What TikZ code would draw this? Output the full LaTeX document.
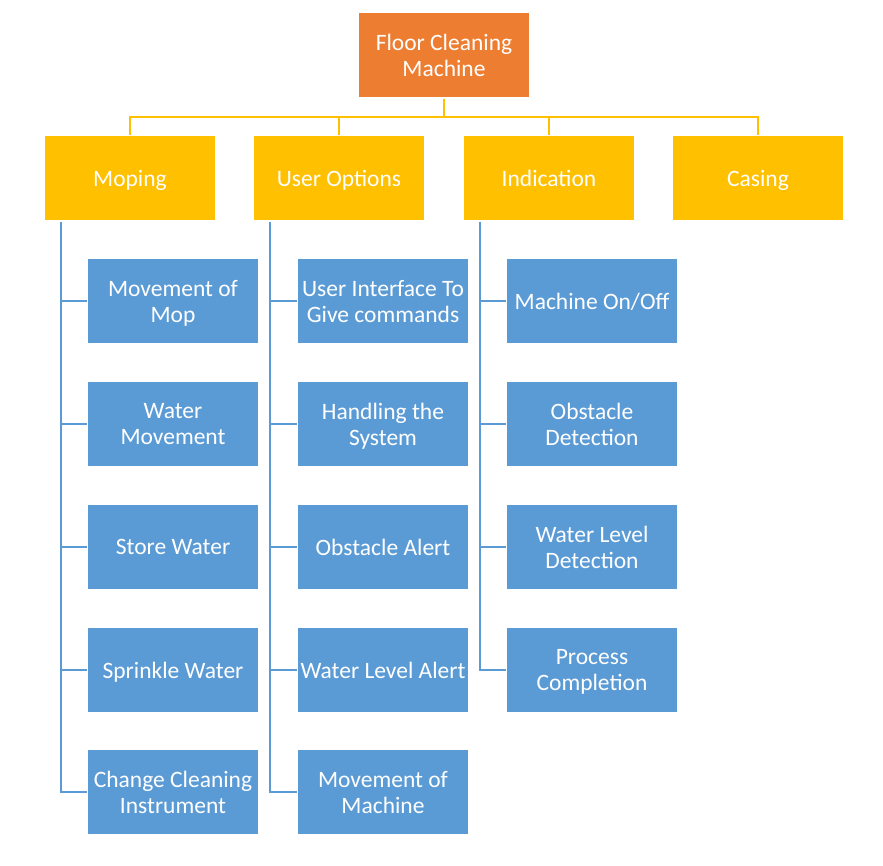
\documentclass[tikz,border=0pt]{standalone}
\usepackage{fontspec}
\setmainfont{Carlito}
\definecolor{rootorange}{HTML}{ED7D31}
\definecolor{groupgold}{HTML}{FFC000}
\definecolor{itemblue}{HTML}{5B9BD5}

\begin{document}
\begin{tikzpicture}[x=1pt, y=-1pt,
  box/.style={minimum width=170pt, minimum height=84pt, inner sep=0pt,
    outer sep=1.5pt, text=white, align=center, text depth=0pt,
    font=\fontsize{23.5}{26}\selectfont},
  rootbox/.style={box, fill=rootorange},
  groupbox/.style={box, fill=groupgold},
  itembox/.style={box, fill=itemblue},
  busline/.style={groupgold, line width=2pt},
  itemline/.style={itemblue, line width=2pt}]
        \useasboundingbox (0,0) rectangle (883,865);

        % top of the tree
        \node[rootbox] (root) at (444,55) {Floor Cleaning\\Machine};
        \node[groupbox] (moping) at (130,178) {Moping};
        \node[groupbox] (useropt) at (339,178) {User Options};
        \node[groupbox] (indication) at (549,178) {Indication};
        \node[groupbox] (casing) at (758,178) {Casing};

        % moping
        \node[itembox] (m1) at (173,301) {Movement of\\Mop};
        \node[itembox] (m2) at (173,424) {Water\\Movement};
        \node[itembox] (m3) at (173,547) {Store Water};
        \node[itembox] (m4) at (173,670) {Sprinkle Water};
        \node[itembox] (m5) at (173,792) {Change Cleaning\\Instrument};

        % user options
        \node[itembox] (u1) at (383,301) {User Interface To\\Give commands};
        \node[itembox] (u2) at (383,424) {Handling the\\System};
        \node[itembox] (u3) at (383,547) {Obstacle Alert};
        \node[itembox] (u4) at (383,670) {Water Level Alert};
        \node[itembox] (u5) at (383,792) {Movement of\\Machine};

        % indication
        \node[itembox] (i1) at (592,301) {Machine On/Off};
        \node[itembox] (i2) at (592,424) {Obstacle\\Detection};
        \node[itembox] (i3) at (592,547) {Water Level\\Detection};
        \node[itembox] (i4) at (592,670) {Process\\Completion};

        % bus
        \coordinate (bus) at (444,117);
        \draw[busline] (root.south) -- (bus);
        \draw[busline] (moping.north) |- (bus) -| (casing.north);
        \draw[busline] (useropt.north) -- (useropt.north |- bus);
        \draw[busline] (indication.north) -- (indication.north |- bus);

        % spines
        \coordinate (mspine) at ([xshift=17pt]moping.south west);
        \coordinate (uspine) at ([xshift=17pt]useropt.south west);
        \coordinate (ispine) at ([xshift=17pt]indication.south west);
        \draw[itemline] (mspine) |- (m5.west);
        \draw[itemline] (uspine) |- (u5.west);
        \draw[itemline] (ispine) |- (i4.west);
        \foreach \n in {m1,m2,m3,m4}
          \draw[itemline] (\n.west) -- (\n.west -| mspine);
        \foreach \n in {u1,u2,u3,u4}
          \draw[itemline] (\n.west) -- (\n.west -| uspine);
        \foreach \n in {i1,i2,i3}
          \draw[itemline] (\n.west) -- (\n.west -| ispine);
      \end{tikzpicture}
\end{document}
